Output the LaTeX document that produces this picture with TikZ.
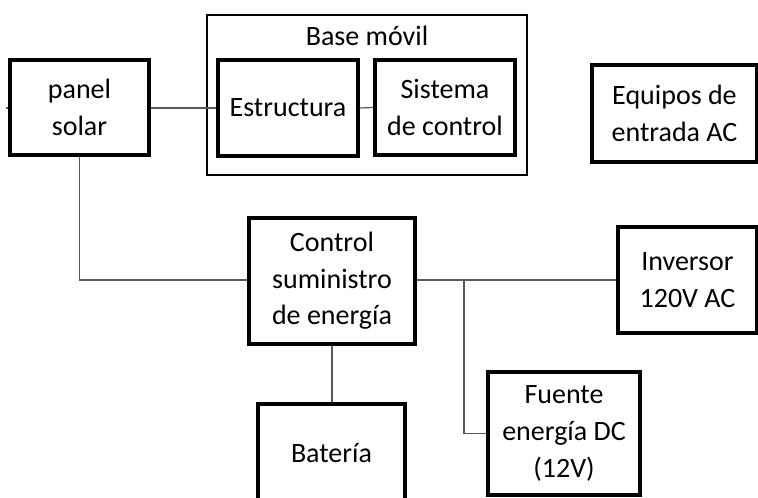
\documentclass[tikz,border=0pt]{standalone}
\usepackage{fontspec}
\setmainfont{Carlito}
\begin{document}
\begin{tikzpicture}[x=0.75pt,y=-0.75pt,
  box/.style={draw=black,line width=2.3pt,fill=white,inner sep=0pt,align=center,
    font=\fontsize{21}{27.5}\selectfont},
  outerbox/.style={draw=black,line width=1.6pt,inner sep=0pt},
  wire/.style={draw=black!65,line width=0.9pt}]
\useasboundingbox (0,0) rectangle (758,498);
% outer base box
\node[outerbox,minimum width=320*0.75pt,minimum height=160*0.75pt] (base) at (367,95) {};
\node[font=\fontsize{21}{27.5}\selectfont,inner sep=0pt] (basel) at (367,36) {Base móvil};
% wires (drawn first)
\node[box,minimum width=139*0.75pt,minimum height=95*0.75pt] (panel) at (79.5,107.5) {panel\\solar};
\node[box,minimum width=140*0.75pt,minimum height=96*0.75pt] (estr) at (288,108) {Estructura};
\node[box,minimum width=140*0.75pt,minimum height=95*0.75pt] (sist) at (445,107.5) {Sistema\\de control};
\node[box,minimum width=165*0.75pt,minimum height=97*0.75pt] (equip) at (674.5,113.5) {Equipos de\\entrada AC};
\node[box,minimum width=166*0.75pt,minimum height=126*0.75pt] (ctrl) at (332,281) {Control\\suministro\\de energía};
\node[box,minimum width=139*0.75pt,minimum height=106*0.75pt] (inv) at (687.5,280) {Inversor\\120V AC};
\node[box,minimum width=152*0.75pt,minimum height=123*0.75pt] (fuente) at (564,433.5) {Fuente\\energía DC\\(12V)};
\node[box,minimum width=147*0.75pt,minimum height=98*0.75pt] (bat) at (331.5,453) {Batería};
\coordinate (j1) at (464,280);
\coordinate (stub) at (6,108);
\draw[wire] (stub) -- (panel.west |- stub);
\draw[wire] (panel.east |- estr.west) -- (estr.west);
\draw[wire] (estr.east) -- (sist.west);
\draw[wire] (panel.south) |- (ctrl.west |- j1);
\draw[wire] (ctrl.east |- j1) -- (inv.west |- j1);
\draw[wire] (j1) |- (fuente.west);
\draw[wire] (ctrl.south) -- (bat.north -| ctrl.south);
\end{tikzpicture}
\end{document}
